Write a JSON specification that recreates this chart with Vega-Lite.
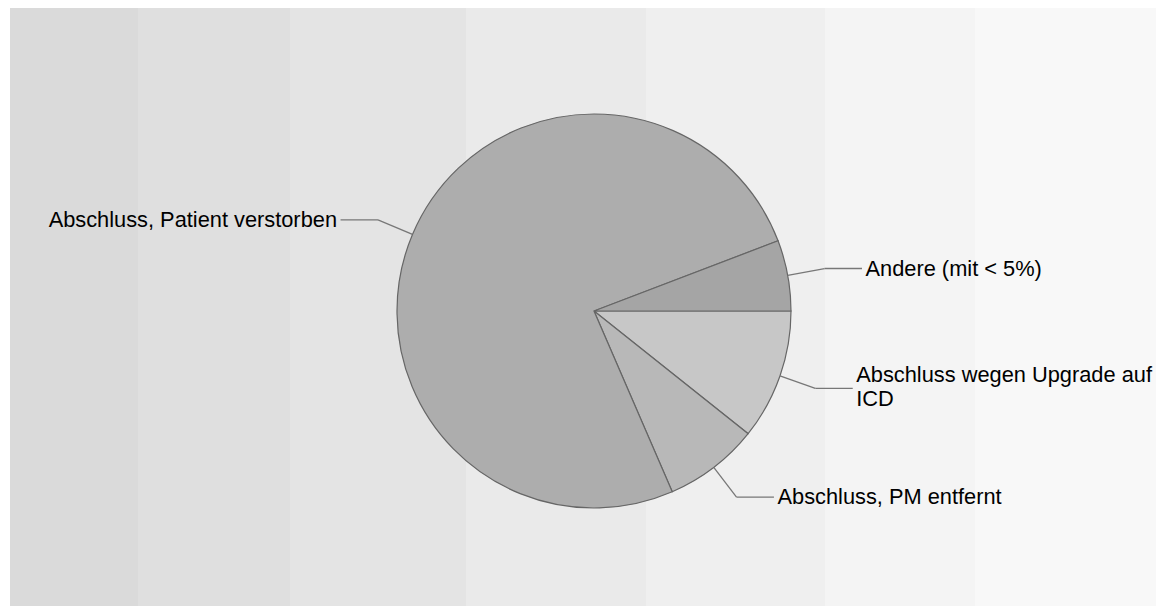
{
  "$schema": "https://vega.github.io/schema/vega-lite/v6.json",
  "width": 1156,
  "height": 606,
  "autosize": {"type": "fit", "contains": "padding"},
  "padding": {"left": 10, "top": 8, "right": 0, "bottom": 0},
  "background": "#ffffff",
  "config": {
    "view": {
      "stroke": null,
      "fill": {
        "gradient": "linear",
        "x1": 0, "y1": 0, "x2": 1, "y2": 0,
        "stops": [
          {"offset": 0, "color": "#dadada"},
          {"offset": 0.1117, "color": "#dadada"},
          {"offset": 0.1117, "color": "#dfdfdf"},
          {"offset": 0.2443, "color": "#dfdfdf"},
          {"offset": 0.2443, "color": "#e4e4e4"},
          {"offset": 0.3979, "color": "#e4e4e4"},
          {"offset": 0.3979, "color": "#eaeaea"},
          {"offset": 0.5550, "color": "#eaeaea"},
          {"offset": 0.5550, "color": "#efefef"},
          {"offset": 0.7112, "color": "#efefef"},
          {"offset": 0.7112, "color": "#f4f4f4"},
          {"offset": 0.8421, "color": "#f4f4f4"},
          {"offset": 0.8421, "color": "#f8f8f8"},
          {"offset": 1, "color": "#f8f8f8"}
        ]
      }
    },
    "font": "Liberation Sans"
  },
  "data": {
    "values": [
      {"category": "Abschluss wegen Upgrade auf ICD", "label": "Abschluss wegen Upgrade auf\nICD", "value": 10.7, "order": 1},
      {"category": "Abschluss, PM entfernt", "label": "Abschluss, PM entfernt", "value": 7.8, "order": 2},
      {"category": "Abschluss, Patient verstorben", "label": "Abschluss, Patient verstorben", "value": 75.7, "order": 3},
      {"category": "Andere (mit < 5%)", "label": "Andere (mit < 5%)", "value": 5.8, "order": 4}
    ]
  },
  "transform": [
    {"joinaggregate": [{"op": "sum", "field": "value", "as": "total"}]},
    {"window": [{"op": "sum", "field": "value", "as": "cum"}], "sort": [{"field": "order", "order": "ascending"}], "frame": [null, 0]},
    {"calculate": "-2*PI*(datum.cum - datum.value/2)/datum.total", "as": "mid"},
    {"calculate": "cos(datum.mid)", "as": "ex"},
    {"calculate": "sin(datum.mid)", "as": "ey"},
    {"calculate": "1.19*datum.ex", "as": "bx"},
    {"calculate": "1.19*datum.ey", "as": "by"},
    {"calculate": "datum.ex >= 0 ? 1 : -1", "as": "side"},
    {"calculate": "datum.bx + datum.side*0.19", "as": "lx"},
    {"calculate": "datum.lx + datum.side*0.018", "as": "tx"}
  ],
  "layer": [
    {
      "mark": {"type": "arc", "outerRadius": 197, "stroke": "#666666", "strokeWidth": 1.2},
      "encoding": {
        "x": {"datum": 0, "type": "quantitative", "scale": {"domain": [-2.96447, 2.85279], "nice": false, "zero": false}, "axis": null},
        "y": {"datum": 0, "type": "quantitative", "scale": {"domain": [-1.49746, 1.53807], "nice": false, "zero": false}, "axis": null},
        "theta": {"field": "value", "type": "quantitative", "stack": true, "scale": {"range": [1.5707963, 7.8539816]}},
        "order": {"field": "order", "type": "quantitative"},
        "color": {
          "field": "category", "type": "nominal", "legend": null,
          "scale": {
            "domain": ["Abschluss wegen Upgrade auf ICD", "Abschluss, PM entfernt", "Abschluss, Patient verstorben", "Andere (mit < 5%)"],
            "range": ["#c7c7c7", "#b8b8b8", "#adadad", "#a5a5a5"]
          }
        }
      }
    },
    {
      "mark": {"type": "rule", "stroke": "#777777", "strokeWidth": 1.3},
      "encoding": {
        "x": {"field": "ex", "type": "quantitative"},
        "y": {"field": "ey", "type": "quantitative"},
        "x2": {"field": "bx"},
        "y2": {"field": "by"}
      }
    },
    {
      "mark": {"type": "rule", "stroke": "#777777", "strokeWidth": 1.3},
      "encoding": {
        "x": {"field": "bx", "type": "quantitative"},
        "y": {"field": "by", "type": "quantitative"},
        "x2": {"field": "lx"}
      }
    },
    {
      "mark": {
        "type": "text",
        "fontSize": 21.8,
        "color": "#000000",
        "baseline": "middle",
        "lineBreak": "\n",
        "lineHeight": 23.5,
        "align": {"expr": "datum.side > 0 ? 'left' : 'right'"},
        "dy": {"expr": "-(length(split(datum.label, '\\n')) - 1) * 13"}
      },
      "encoding": {
        "x": {"field": "tx", "type": "quantitative"},
        "y": {"field": "by", "type": "quantitative"},
        "text": {"field": "label"}
      }
    }
  ]
}
